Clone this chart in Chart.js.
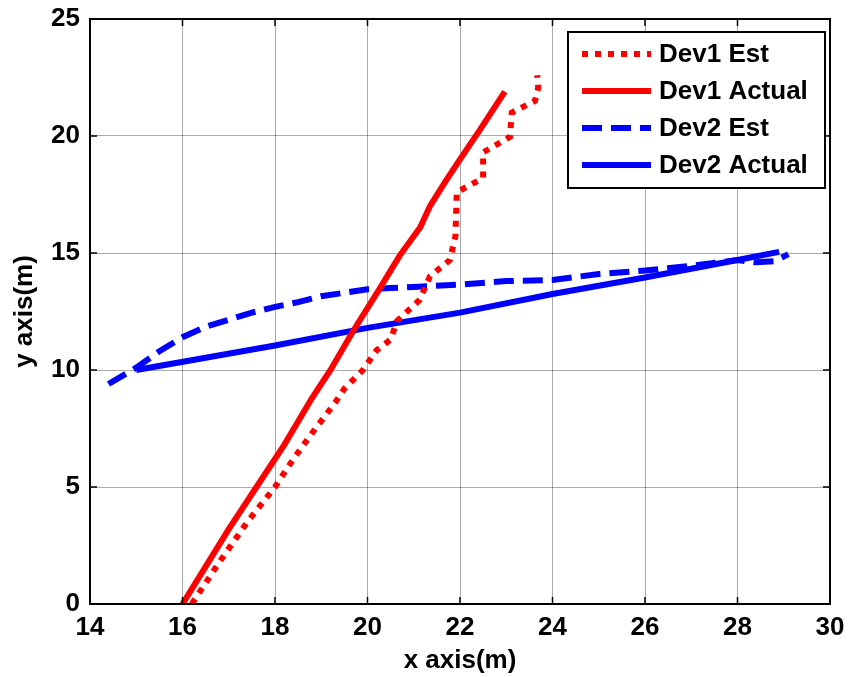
<!DOCTYPE html>
<html>
<head>
<meta charset="utf-8">
<script src="https://cdn.jsdelivr.net/npm/chart.js@4/dist/chart.umd.min.js"></script>
<style>
html,body{margin:0;padding:0;background:#fff;}
#wrap{width:852px;height:677px;position:relative;}
</style>
</head>
<body>
<div id="wrap"><canvas id="c" width="852" height="677"></canvas></div>
<script>
// ---- data ----
const seriesLabels = ["Dev1 Est", "Dev1 Actual", "Dev2 Est", "Dev2 Actual"];

const dev1EstX = [16.2, 16.8, 17.4, 18.0, 18.4, 18.8, 19.3, 19.5, 19.9, 20.2, 20.5, 20.64, 21.13, 21.35, 21.78, 21.9, 21.93, 22.5, 22.5, 23.08, 23.12, 23.62, 23.69, 23.67];
const dev1EstY = [0, 1.8, 3.5, 5.0, 6.2, 7.3, 8.6, 9.2, 10.0, 10.85, 11.3, 12.1, 13.0, 14.0, 14.7, 15.7, 17.6, 18.2, 19.3, 19.96, 21.0, 21.5, 22.05, 22.6];

const dev1ActX = [16.0, 16.5, 17.0, 17.6, 18.2, 18.8, 19.2, 19.7, 20.27, 20.7, 21.14, 21.35, 21.7, 22.0, 22.43, 22.97];
const dev1ActY = [0, 1.6, 3.2, 5.0, 6.8, 8.8, 10.0, 11.7, 13.5, 14.9, 16.1, 17.0, 18.1, 19.0, 20.26, 21.9];

const dev2EstX = [14.4, 15.0, 15.5, 16.0, 16.5, 17.0, 17.5, 18.0, 18.5, 19.0, 19.5, 20.0, 20.5, 21.0, 22.0, 23.0, 24.0, 25.0, 26.0, 27.0, 28.0, 28.4, 28.8, 29.1];
const dev2EstY = [9.4, 10.1, 10.8, 11.4, 11.85, 12.15, 12.45, 12.7, 12.9, 13.15, 13.3, 13.45, 13.5, 13.55, 13.65, 13.8, 13.85, 14.1, 14.25, 14.45, 14.7, 14.6, 14.65, 14.95];

const dev2ActX = [15.0, 18.0, 20.0, 22.0, 24.0, 26.0, 28.0, 28.9];
const dev2ActY = [10.0, 11.05, 11.8, 12.45, 13.25, 13.95, 14.7, 15.05];

const xTicks = [14, 16, 18, 20, 22, 24, 26, 28, 30];
const yTicks = [0, 5, 10, 15, 20, 25];
const xTitle = "x axis(m)";
const yTitle = "y axis(m)";

function zip(xs, ys){ return xs.map((x,i)=>({x:x, y:ys[i]})); }

const FONT = "'Liberation Sans', Arial, sans-serif";
const FS = 26;

const boxPlugin = {
  id: 'boxPlugin',
  afterDatasetsDraw(chart){
    const {ctx, chartArea:a} = chart;
    ctx.save();
    ctx.strokeStyle = '#000';
    ctx.lineWidth = 2;
    ctx.strokeRect(a.left, a.top, a.right-a.left, a.bottom-a.top);
    ctx.lineWidth = 1.5;
    const xs = chart.scales.x, ys = chart.scales.y;
    xTicks.forEach(v=>{
      const px = xs.getPixelForValue(v);
      ctx.beginPath(); ctx.moveTo(px, a.bottom); ctx.lineTo(px, a.bottom-7); ctx.stroke();
      ctx.beginPath(); ctx.moveTo(px, a.top); ctx.lineTo(px, a.top+7); ctx.stroke();
    });
    yTicks.forEach(v=>{
      const py = ys.getPixelForValue(v);
      ctx.beginPath(); ctx.moveTo(a.left, py); ctx.lineTo(a.left+7, py); ctx.stroke();
      ctx.beginPath(); ctx.moveTo(a.right, py); ctx.lineTo(a.right-7, py); ctx.stroke();
    });
    ctx.restore();
  },
  afterDraw(chart){
    const {ctx} = chart;
    const L = 568, T = 32, W = 257, H = 156;
    ctx.save();
    ctx.fillStyle = '#fff';
    ctx.fillRect(L, T, W, H);
    ctx.strokeStyle = '#000';
    ctx.lineWidth = 2;
    ctx.strokeRect(L, T, W, H);
    const rows = [54, 91, 128, 165];
    chart.data.datasets.forEach((ds, i)=>{
      const y = rows[i];
      ctx.beginPath();
      ctx.strokeStyle = ds.borderColor;
      ctx.lineWidth = ds.borderWidth;
      ctx.setLineDash(ds.borderDash || []);
      ctx.moveTo(582, y); ctx.lineTo(651, y);
      ctx.stroke();
      ctx.setLineDash([]);
      ctx.fillStyle = '#000';
      ctx.font = "bold " + FS + "px " + FONT;
      ctx.textBaseline = 'middle';
      ctx.textAlign = 'left';
      ctx.fillText(ds.label, 659, y+1);
    });
    ctx.restore();
  }
};

new Chart(document.getElementById('c'), {
  type: 'scatter',
  data: {
    datasets: [
      {label: seriesLabels[0], data: zip(dev1EstX, dev1EstY), borderColor:'#ff0000', backgroundColor:'#ff0000', borderWidth:6, borderDash:[6,7], showLine:true, pointRadius:0, tension:0, borderCapStyle:'butt'},
      {label: seriesLabels[1], data: zip(dev1ActX, dev1ActY), borderColor:'#ff0000', backgroundColor:'#ff0000', borderWidth:6, showLine:true, pointRadius:0, tension:0},
      {label: seriesLabels[2], data: zip(dev2EstX, dev2EstY), borderColor:'#0000ff', backgroundColor:'#0000ff', borderWidth:6, borderDash:[20,9], showLine:true, pointRadius:0, tension:0},
      {label: seriesLabels[3], data: zip(dev2ActX, dev2ActY), borderColor:'#0000ff', backgroundColor:'#0000ff', borderWidth:6, showLine:true, pointRadius:0, tension:0}
    ]
  },
  options: {
    responsive: false,
    animation: false,
    layout: {padding: {left:0, top:19, right:22, bottom:0}},
    plugins: {legend:{display:false}, tooltip:{enabled:false}},
    scales: {
      x: {
        type:'linear', min:14, max:30,
        afterBuildTicks(s){ s.ticks = xTicks.map(v=>({value:v})); },
        afterFit(s){ s.height = 73; s.paddingLeft = 0; s.paddingRight = 0; },
        grid:{color:'rgba(0,0,0,0.33)', lineWidth:1, drawTicks:false},
        border:{display:false},
        ticks:{padding:8, color:'#000', font:{family:FONT, size:FS, weight:'bold'}},
        title:{display:true, text:xTitle, color:'#000', font:{family:FONT, size:FS, weight:'bold'}, padding:{top:0,bottom:1}}
      },
      y: {
        type:'linear', min:0, max:25,
        afterBuildTicks(s){ s.ticks = yTicks.map(v=>({value:v})); },
        afterFit(s){ s.width = 90; s.paddingTop = 0; s.paddingBottom = 0; },
        grid:{color:'rgba(0,0,0,0.33)', lineWidth:1, drawTicks:false},
        border:{display:false},
        ticks:{padding:10, color:'#000', font:{family:FONT, size:FS, weight:'bold'}},
        title:{display:true, text:yTitle, color:'#000', font:{family:FONT, size:FS, weight:'bold'}, padding:{top:9,bottom:0}}
      }
    }
  },
  plugins:[boxPlugin]
});
</script>
</body>
</html>
